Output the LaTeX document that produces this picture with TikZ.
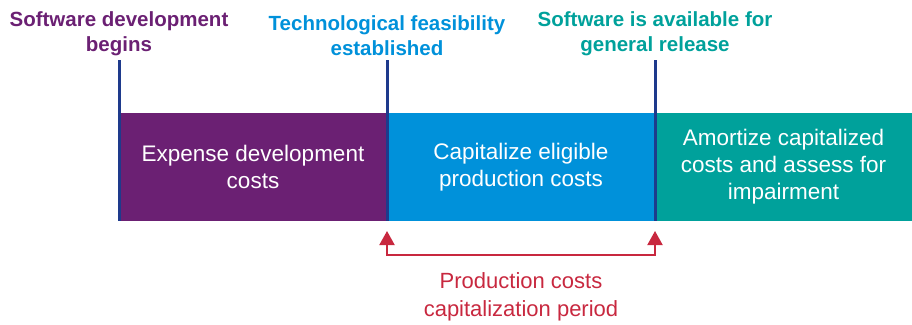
\documentclass[tikz,border=0pt]{standalone}
\usepackage{fontspec}
\setmainfont{Liberation Sans}
\usepackage{tikz}
\usetikzlibrary{arrows.meta, positioning, calc}
\usepackage{xcolor}
\definecolor{swPurple}{HTML}{6B2073}
\definecolor{swBlue}{HTML}{0091DA}
\definecolor{swTeal}{HTML}{00A19B}
\definecolor{swNavy}{HTML}{1E3A8C}
\definecolor{swRed}{HTML}{C8283F}
\tikzstyle{band} = [%
  rectangle,
  draw=none,
  minimum height=108pt,
  inner sep=0pt,
  text=white,
  align=center,
  font=\fontsize{22.5}{27}\selectfont
]

\begin{document}
\begin{tikzpicture}[%
  x=1pt, y=-1pt,
  milestone/.style={%
    draw=swNavy,
    line width=3pt
  },
  period/.style={%
    {Triangle[length=14pt,width=15pt]}-{Triangle[length=14pt,width=15pt]},
    draw=swRed,
    line width=2pt
  },
  head/.style={%
    font=\bfseries\fontsize{20.5}{25}\selectfont,
    align=center,
    inner sep=0pt
  }
]
  \useasboundingbox (0,0) rectangle (912,324);

  % Bands
  \node[band,fill=swPurple,minimum width=268pt] (expense) at (253,167) {Expense development\\costs};
  \node[band,fill=swBlue,minimum width=268pt] (capital) at (521,167) {Capitalize eligible\\production costs};
  \node[band,fill=swTeal,minimum width=257pt] (amortize) at (783.5,167) {Amortize capitalized\\costs and assess for\\impairment};

  % Milestones
  \coordinate (m1) at (119,60);
  \coordinate (m2) at (387,60);
  \coordinate (m3) at (655,60);
  \draw[milestone] (m1) -- (m1 |- expense.south);
  \draw[milestone] (m2) -- (m2 |- capital.south);
  \draw[milestone] (m3) -- (m3 |- amortize.south);

  % Milestone labels
  \node[head,text=swPurple,anchor=south] (begins) at ($(m1)+(0,-4)$) {Software development\\begins};
  \node[head,text=swBlue,anchor=south] (feasible) at ($(m2)+(0,-4)$) {Technological feasibility\\established};
  \node[head,text=swTeal,anchor=south] (release) at ($(m3)+(0,-4)$) {Software is available for\\general release};

  % Capitalization period
  \coordinate (p1) at (387,231);
  \coordinate (p2) at (655,231);
  \draw[period] (p1) -- ++(0,24) -| (p2);
  \node[text=swRed,align=center,font=\fontsize{22}{28}\selectfont,inner sep=0pt] (period) at (521,297) {Production costs\\capitalization period};

\end{tikzpicture}
\end{document}
